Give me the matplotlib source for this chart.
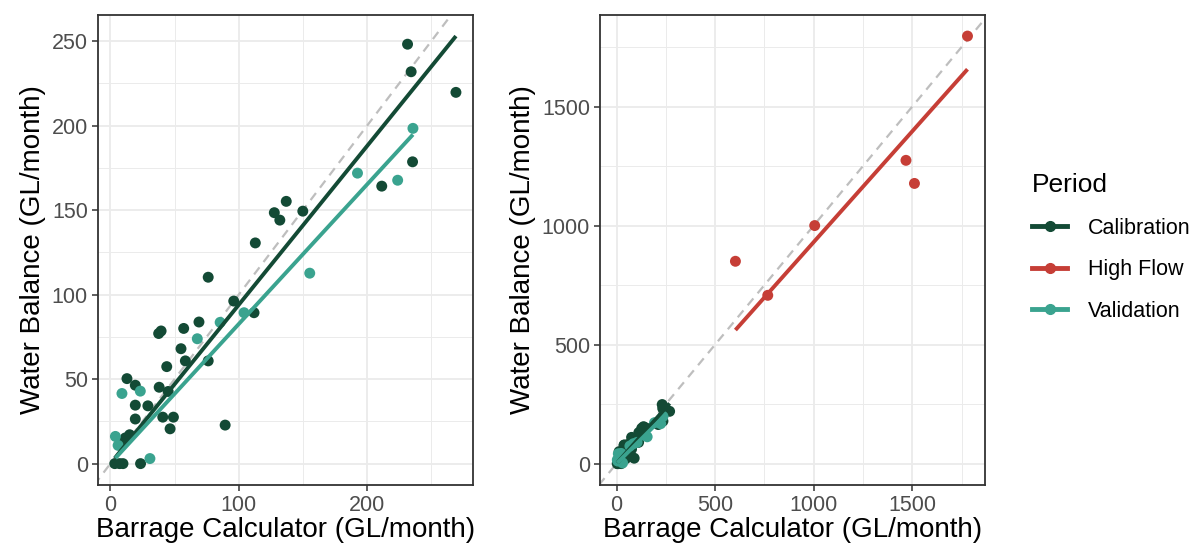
import numpy as np
import matplotlib
matplotlib.use("Agg")
import matplotlib.pyplot as plt
from matplotlib.lines import Line2D

plt.rcParams.update({
    "font.family": ["Liberation Sans", "DejaVu Sans"],
    "axes.edgecolor": "#333333",
    "xtick.color": "#333333", "ytick.color": "#333333",
    "xtick.labelcolor": "#4D4D4D", "ytick.labelcolor": "#4D4D4D",
})

# ---- data ----
cal_x = [231.5, 234.3, 269.2, 235.4, 211.4, 137.0, 127.7, 132.0, 149.9, 112.9,
         76.2, 96.1, 111.9, 69.0, 57.1, 39.5, 37.6, 55.0, 58.4, 76.2,
         43.9, 12.9, 19.4, 38.0, 45.0, 19.4, 29.2, 19.4, 40.8, 49.1,
         46.5, 89.4, 15.0, 11.6, 7.8, 3.4, 7.2, 9.8, 23.5]
cal_y = [248.2, 231.9, 219.7, 178.6, 164.2, 155.2, 148.5, 144.1, 149.4, 130.6,
         110.3, 96.2, 89.3, 83.8, 80.0, 78.5, 77.0, 68.0, 60.8, 60.8,
         57.4, 50.3, 46.4, 45.2, 42.7, 34.6, 34.2, 26.4, 27.5, 27.5,
         20.6, 22.8, 17.1, 15.2, 11.2, 0.0, 0.0, 0.0, 0.0]
val_x = [235.7, 192.5, 223.8, 155.3, 104.1, 85.5, 67.7, 9.0, 23.3, 3.9, 6.0, 30.8]
val_y = [198.4, 171.9, 167.7, 112.7, 89.3, 83.6, 73.9, 41.5, 42.9, 16.1, 10.8, 3.0]
hf_x = [603, 767, 1005, 1468, 1511, 1780]
hf_y = [850, 707, 1000, 1274, 1177, 1796]

periods = ["Calibration", "High Flow", "Validation"]
colors = {"Calibration": "#134A35", "High Flow": "#C63E36", "Validation": "#3AA38F"}
data = {"Calibration": (cal_x, cal_y), "High Flow": (hf_x, hf_y), "Validation": (val_x, val_y)}

W, H = 1198, 552
fig = plt.figure(figsize=(W / 100, H / 100), dpi=100)


def fit_origin(x, y):
    # regression through the origin
    x = np.asarray(x, float); y = np.asarray(y, float)
    b = np.sum(x * y) / np.sum(x * x)
    xs = np.array([x.min(), x.max()])
    return xs, b * xs


def panel(ax, groups, xmajor, ymajor, xminor, yminor):
    fits = {g: fit_origin(*data[g]) for g in groups}
    allx = np.concatenate([data[g][0] for g in groups] + [fits[g][0] for g in groups])
    ally = np.concatenate([data[g][1] for g in groups] + [fits[g][1] for g in groups])
    dx = (allx.max() - allx.min()) * 0.05
    dy = (ally.max() - ally.min()) * 0.05
    xl = (allx.min() - dx, allx.max() + dx)
    yl = (ally.min() - dy, ally.max() + dy)
    lo = min(xl[0], yl[0]); hi = max(xl[1], yl[1])
    ax.plot([lo, hi], [lo, hi], ls=(0, (4, 3)), color="#BEBEBE", lw=1.6, zorder=2)
    for g in groups:
        ax.scatter(data[g][0], data[g][1], s=62, color=colors[g], edgecolors="none", zorder=3)
    for g in groups:
        ax.plot(fits[g][0], fits[g][1], color=colors[g], lw=2.8, zorder=4, solid_capstyle="butt")
    ax.set_xlim(xl); ax.set_ylim(yl)
    ax.set_xticks(xmajor); ax.set_yticks(ymajor)
    ax.set_xticks(xminor, minor=True); ax.set_yticks(yminor, minor=True)
    ax.grid(True, which="major", color="#EBEBEB", lw=1.3, zorder=0)
    ax.grid(True, which="minor", color="#EBEBEB", lw=0.7, zorder=0)
    ax.set_axisbelow(True)
    ax.tick_params(which="major", length=4, width=1.1, labelsize=15.5, pad=3)
    ax.tick_params(which="minor", length=0)
    for s in ax.spines.values():
        s.set_linewidth(1.3)
    ax.set_xlabel("Barrage Calculator (GL/month)", fontsize=20, labelpad=1)
    ax.set_ylabel("Water Balance (GL/month)", fontsize=20, labelpad=4)


ax1 = fig.add_axes([97.7 / W, 1 - 485 / H, (473 - 97.7) / W, (485 - 14.7) / H])
panel(ax1, ["Calibration", "Validation"], [0, 100, 200], [0, 50, 100, 150, 200, 250],
      [50, 150, 250], [25, 75, 125, 175, 225])

ax2 = fig.add_axes([599.7 / W, 1 - 485 / H, (985 - 599.7) / W, (485 - 14.7) / H])
panel(ax2, periods, [0, 500, 1000, 1500], [0, 500, 1000, 1500],
      [250, 750, 1250, 1750], [250, 750, 1250, 1750])

handles = [Line2D([0], [0], color=colors[p], lw=3.5, marker="o", markersize=7) for p in periods]
leg = fig.legend(handles, periods, title="Period", loc="upper left",
                 bbox_to_anchor=(1013 / W, 1 - 154 / H), frameon=False,
                 fontsize=15.5, title_fontsize=19, handlelength=1.6,
                 labelspacing=0.95, handletextpad=1.0)
leg._legend_box.align = "left"

fig.savefig("out.png", dpi=100)
